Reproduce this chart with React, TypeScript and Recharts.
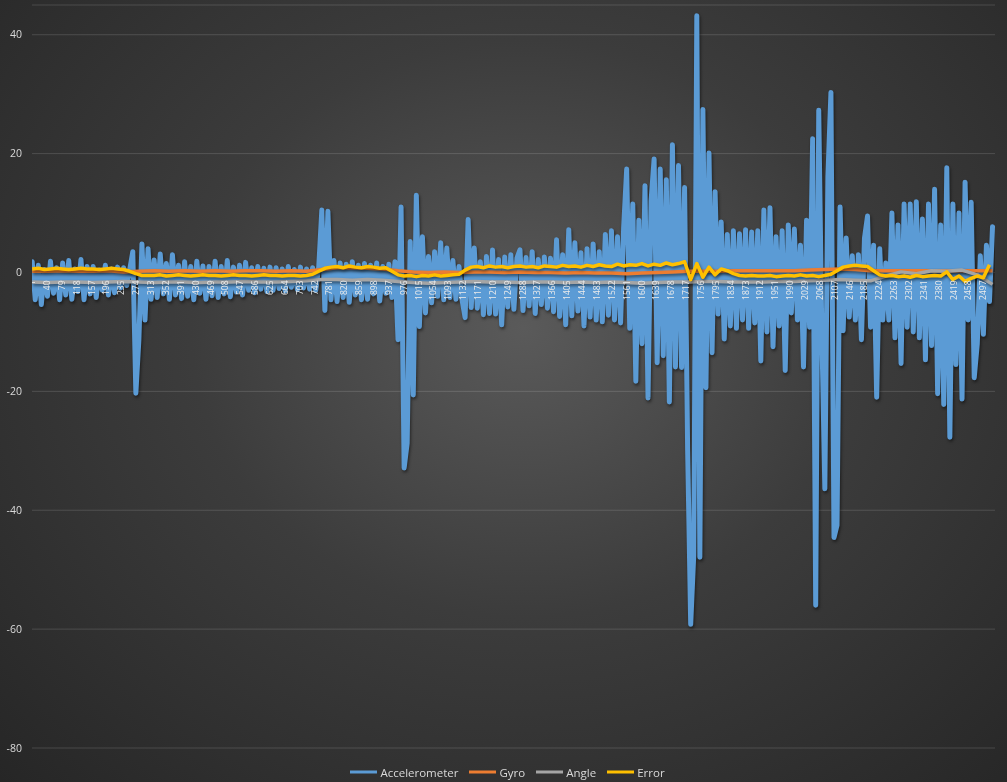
import React from 'react';
import { ComposedChart, Line, Scatter, XAxis, YAxis, CartesianGrid, Legend } from 'recharts';

// sample spacing (in sample index units) of the accelerometer readings shown
const STEP = 8;

const ACC = [
  1.8, -4.6, 1.2, -5.4, 0.5, -4.0, 1.9, -3.5, 0.8, -4.6,
  1.6, -3.8, 2.0, -4.5, 0.6, -3.2, 2.2, -4.6, 1.0, -3.6,
  1.0, -4.2, 0.4, -3.0, 1.2, -3.8, 0.6, -3.4, 0.9, -2.6,
  0.8, -2.2, 0.5, 3.5, -20.3, -11.3, 4.8, -8.0, 4.0, -4.5,
  2.1, -4.2, 3.1, -3.6, 1.5, -4.5, 3.0, -3.8, 1.2, -4.4,
  1.8, -4.0, 1.0, -4.6, 1.9, -3.5, 1.1, -4.5, 1.0, -3.9,
  1.9, -4.2, 1.0, -3.6, 2.0, -4.1, 0.9, -3.3, 1.2, -3.8,
  1.7, -3.0, 0.8, -3.4, 1.0, -2.8, 0.7, -3.2, 0.9, -3.0,
  0.8, -2.7, 0.6, -3.1, 1.0, -2.5, 0.5, -2.9, 0.9, -2.6,
  0.6, -2.8, 0.8, -3.0, 1.0, 10.5, -6.4, 10.3, -4.6, 2.0,
  -4.9, 1.6, -4.2, 1.4, -5.0, 1.8, -3.8, 1.2, -4.6, 1.5,
  -4.5, 1.2, -3.6, 1.6, -4.8, 1.0, -3.5, 1.4, -4.2, 1.8,
  -11.3, 11.0, -32.9, -28.7, 5.2, -20.6, 13.0, -9.1, 6.0, -6.8,
  2.7, -5.1, 3.5, -4.0, 5.0, -4.6, 4.1, -4.2, 2.0, -4.5,
  1.0, -4.6, -7.6, 8.9, -5.9, 4.1, -6.0, 1.8, -7.1, 2.7,
  -6.9, 3.8, -7.0, 2.2, -8.8, 2.6, -5.8, 3.0, -6.2, 2.4,
  3.8, -6.4, 2.5, -5.6, 3.5, -6.9, 2.2, -5.4, 2.6, -6.0,
  2.4, -6.6, 5.5, -7.4, 3.0, -8.8, 7.2, -7.3, 5.0, -6.5,
  3.3, -9.0, 4.0, -7.5, 4.8, -8.0, 3.5, -8.3, 6.4, -7.2,
  7.0, -8.0, 6.0, -8.5, 7.5, 17.4, -9.4, 11.5, -18.3, 8.8,
  -12.0, 14.6, -21.1, 12.0, 19.1, -15.2, 17.4, -14.0, 15.6, -21.8,
  21.5, -15.9, 18.0, -16.0, 14.3, -30.0, -59.2, -47.5, 43.2, -47.9,
  27.4, -19.4, 20.1, -13.5, 13.6, -7.0, 8.5, -11.2, 6.4, -9.0,
  7.0, -9.4, 6.5, -8.0, 7.2, -9.4, 6.8, -8.5, 7.0, -14.9,
  10.5, -10.0, 10.9, -12.5, 6.0, -9.0, 7.0, -16.5, 8.0, -6.8,
  7.3, -8.0, 4.6, -15.9, 8.8, -9.2, 22.5, -56.0, 27.3, -9.8,
  -36.4, 16.1, 30.3, -44.6, -42.5, 11.0, -9.8, 5.8, -7.5, 2.8,
  -8.0, 3.0, -11.3, 5.8, 9.5, -9.2, 4.6, -21.0, 4.0, -8.0,
  1.6, -8.0, 10.0, -11.0, 8.0, -15.3, 11.5, -9.2, 11.5, -10.0,
  11.9, -11.0, 9.0, -14.7, 11.5, -12.3, 14.0, -20.4, 8.0, -22.2,
  17.6, -27.7, 11.5, -15.5, 10.0, -21.3, 15.2, -8.0, 11.8, -17.7,
  -12.0, 2.8, -10.4, 4.6, -4.9, 7.7,
];

// one value every 5 accelerometer samples
const GYRO = [
  0.2, 0.2, 0.3, 0.2, 0.2, 0.3, 0.1, 0.2, 0.3, 0.2,
  0.3, 0.2, 0.3, 0.2, 0.3, 0.3, 0.2, 0.3, 0.2, 0.5,
  0.8, 0.8, 0.7, 0.6, 0.3, 0.1, 0.0, 0.1, 0.0, 0.1,
  0.1, 0.0, 0.1, 0.0, 0.0, -0.1, 0.0, -0.1, -0.1, -0.2,
  -0.1, 0.0, 0.1, 0.2, 0.2, 0.2, 0.3, 0.3, 0.3, 0.3,
  0.3, 0.4, 0.5, 0.6, 0.5, 0.3, 0.3, 0.3, 0.3, 0.3,
  0.3, 0.3, 0.3, 0.3,
];

const ANGLE = [
  -1.6, -1.7, -1.6, -1.6, -1.7, -1.6, -1.5, -1.6, -1.7, -1.6,
  -1.6, -1.7, -1.6, -1.6, -1.5, -1.6, -1.6, -1.5, -1.4, -1.2,
  -1.2, -1.3, -1.2, -1.3, -1.5, -1.7, -1.8, -1.7, -1.6, -1.5,
  -1.6, -1.6, -1.7, -1.6, -1.6, -1.7, -1.6, -1.7, -1.6, -1.7,
  -1.8, -1.7, -1.6, -1.6, -1.5, -1.5, -1.6, -1.6, -1.6, -1.5,
  -1.5, -1.4, -1.3, -1.2, -1.3, -1.4, -0.6, 0.1, -0.2, 0.3,
  0.2, 0.4, -0.4, -2.0,
];

// one value every 2 accelerometer samples
const ERROR = [
  0.6, 0.7, 0.5, 0.6, 0.7, 0.6, 0.5, 0.6, 0.7, 0.6,
  0.6, 0.5, 0.6, 0.7, 0.6, 0.5, 0.2, -0.2, -0.5, -0.5,
  -0.5, -0.4, -0.6, -0.5, -0.4, -0.5, -0.6, -0.5, -0.4, -0.5,
  -0.5, -0.6, -0.5, -0.4, -0.5, -0.5, -0.6, -0.5, -0.4, -0.5,
  -0.5, -0.6, -0.5, -0.5, -0.6, -0.5, -0.3, 0.2, 0.7, 0.9,
  1.0, 0.8, 1.1, 0.9, 0.8, 1.0, 0.9, 0.7, 0.8, 0.2,
  -0.4, -0.6, -0.5, -0.7, -0.5, -0.6, -0.4, -0.6, -0.5, -0.4,
  -0.3, 0.4, 0.9, 1.0, 0.8, 1.1, 0.9, 1.0, 0.8, 1.0,
  1.1, 0.9, 1.0, 0.8, 1.1, 1.0, 0.9, 1.2, 1.0, 1.1,
  0.9, 1.2, 1.0, 1.3, 1.1, 1.0, 1.4, 1.1, 1.3, 1.2,
  1.5, 1.1, 1.4, 1.2, 1.6, 1.3, 1.5, 1.8, -1.2, 1.5,
  -0.8, 0.9, -0.4, 0.6, 0.3, -0.2, -0.5, -0.6, -0.5, -0.6,
  -0.6, -0.5, -0.7, -0.6, -0.5, -0.6, -0.4, -0.6, -0.5, -0.7,
  -0.5, -0.3, 0.3, 0.9, 1.1, 1.2, 1.1, 1.0, 0.3, -0.4,
  -0.6, -0.5, -0.7, -0.6, -0.8, -0.5, -0.7, -0.6, -0.5, -0.6,
  0.1, -1.2, -0.6, -1.5, -1.0, -0.6, -0.9, 1.3,
];

const X_TICKS = [
  1, 40, 79, 118, 157, 196, 235, 274, 313, 352, 391, 430, 469, 508, 547, 586, 625, 664, 703, 742,
  781, 820, 859, 898, 937, 976, 1015, 1054, 1093, 1132, 1171, 1210, 1249, 1288, 1327, 1366, 1405,
  1444, 1483, 1522, 1561, 1600, 1639, 1678, 1717, 1756, 1795, 1834, 1873, 1912, 1951, 1990, 2029,
  2068, 2107, 2146, 2185, 2224, 2263, 2302, 2341, 2380, 2419, 2458, 2497,
];
const Y_TICKS = [-80, -60, -40, -20, 0, 20, 40];

const SERIES = [
  { key: 'acc', name: 'Accelerometer', color: '#5B9BD5' },
  { key: 'gyro', name: 'Gyro', color: '#ED7D31' },
  { key: 'angle', name: 'Angle', color: '#A5A5A5' },
  { key: 'error', name: 'Error', color: '#FFC000' },
];

const data = ACC.map((acc, k) => ({
  x: 1 + STEP * k,
  acc,
  gyro: k % 5 === 0 ? GYRO[k / 5] : undefined,
  angle: k % 5 === 0 ? ANGLE[k / 5] : undefined,
  error: k % 2 === 0 ? ERROR[k / 2] : undefined,
}));

// category labels sit on the zero line
const tickData = X_TICKS.map((t) => ({ x: t, zero: 0 }));

const FONT = '"Open Sans", "Noto Sans", sans-serif';

const TickLabel = (props: any) => {
  const { cx, cy, payload } = props;
  if (cx == null || cy == null) return null;
  const y = cy + 8;
  return (
    <text
      x={cx}
      y={y}
      transform={`rotate(-90 ${cx} ${y})`}
      textAnchor="end"
      dy="0.35em"
      fill="#ececec"
      fontSize={8.5}
      fontFamily={FONT}
    >
      {payload.x}
    </text>
  );
};

const renderLegend = () => (
  <div
    style={{
      height: 34,
      paddingTop: 14,
      boxSizing: 'border-box',
      display: 'flex',
      justifyContent: 'center',
    }}
  >
    <div style={{ display: 'flex', alignItems: 'center', height: 20, marginLeft: 8 }}>
      {SERIES.map((s, i) => (
        <div
          key={s.key}
          style={{ display: 'flex', alignItems: 'center', marginLeft: i === 0 ? 0 : 11 }}
        >
          <svg width={27} height={6}>
            <line x1={0} y1={3} x2={27} y2={3} stroke={s.color} strokeWidth={3} />
          </svg>
          <span style={{ marginLeft: 3, color: '#d9d9d9', fontSize: 11.5, fontFamily: FONT }}>
            {s.name}
          </span>
        </div>
      ))}
    </div>
  </div>
);

export default function App() {
  return (
    <div
      style={{
        position: 'fixed',
        left: 0,
        top: 0,
        width: 1007,
        height: 782,
        background:
          'radial-gradient(ellipse farthest-corner at 52% 42%, #5a5a5a 0%, #3c3c3c 45%, #262626 100%)',
        fontFamily: FONT,
      }}
    >
      <style>{`.recharts-line-curve{filter:drop-shadow(1px 2px 1.5px rgba(0,0,0,0.5));}`}</style>
      <ComposedChart
        width={1007}
        height={782}
        data={data}
        margin={{ top: 5, right: 12, left: 0, bottom: 0 }}
      >
        <CartesianGrid vertical={false} stroke="#ffffff" strokeOpacity={0.14} />
        <XAxis dataKey="x" type="number" domain={[0.5, 2527.5]} allowDataOverflow hide />
        <YAxis
          type="number"
          domain={[-80, 45]}
          allowDataOverflow
          ticks={Y_TICKS}
          width={32}
          axisLine={false}
          tickLine={false}
          tickSize={0}
          tickMargin={10}
          tick={{ fill: '#d9d9d9', fontSize: 10.5, fontFamily: FONT }}
        />
        <Line
          dataKey="acc"
          name="Accelerometer"
          stroke="#5B9BD5"
          strokeWidth={5}
          dot={false}
          activeDot={false}
          strokeLinejoin="round"
          strokeLinecap="round"
          isAnimationActive={false}
        />
        <Line
          dataKey="gyro"
          name="Gyro"
          stroke="#ED7D31"
          strokeWidth={3.5}
          dot={false}
          activeDot={false}
          connectNulls
          strokeLinejoin="round"
          isAnimationActive={false}
        />
        <Line
          dataKey="angle"
          name="Angle"
          stroke="#A5A5A5"
          strokeWidth={3.5}
          dot={false}
          activeDot={false}
          connectNulls
          strokeLinejoin="round"
          isAnimationActive={false}
        />
        <Line
          dataKey="error"
          name="Error"
          stroke="#FFC000"
          strokeWidth={3.5}
          dot={false}
          activeDot={false}
          connectNulls
          strokeLinejoin="round"
          isAnimationActive={false}
        />
        <Scatter
          data={tickData}
          dataKey="zero"
          shape={TickLabel}
          isAnimationActive={false}
          legendType="none"
        />
        <Legend
          verticalAlign="bottom"
          content={renderLegend}
          wrapperStyle={{ left: 0, width: 1007 }}
        />
      </ComposedChart>
    </div>
  );
}
